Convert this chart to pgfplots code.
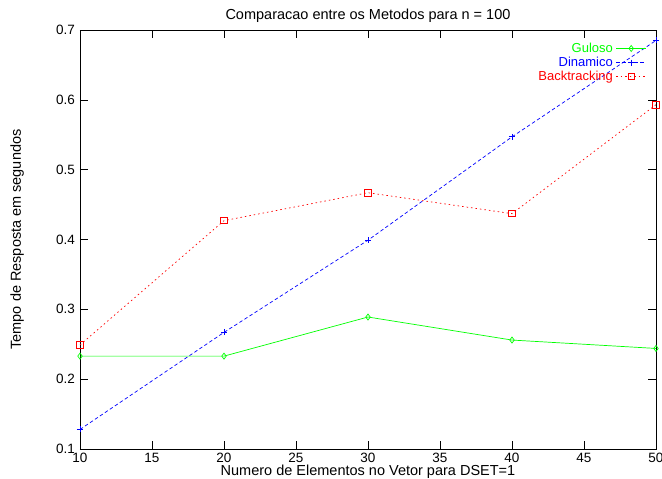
\documentclass[border=0pt]{standalone}
\usepackage{fontspec}
\setmainfont{Liberation Sans}
\usepackage{pgfplots}
\pgfplotsset{compat=1.18}
\definecolor{gpgreen}{RGB}{0,255,0}
\definecolor{gpblue}{RGB}{0,0,255}
\definecolor{gpred}{RGB}{255,0,0}
\begin{document}
\fontsize{14.5pt}{16pt}\selectfont
\begin{tikzpicture}
\begin{axis}[
  scale only axis,
  width=576pt, height=419pt,
  xmin=10, xmax=50, ymin=0.1, ymax=0.7,
  xtick={10,15,...,50},
  ytick={0.1,0.2,...,0.7},
  yticklabel style={/pgf/number format/fixed,/pgf/number format/precision=1},
  /pgf/number format/assume math mode=true,
  tick align=inside,
  major tick length=8pt,
  tick style={black, line width=0.5pt},
  axis line style={line width=0.8pt},
  ticklabel style={font=\fontsize{13.5pt}{16pt}\selectfont},
  xticklabel style={inner sep=0pt, yshift=-4pt},
  title={Comparacao entre os Metodos para n = 100},
  title style={font=\fontsize{14.5pt}{16pt}\selectfont, at={(axis description cs:0.5,1)}, anchor=center, yshift=8pt},
  xlabel={Numero de Elementos no Vetor para DSET=1},
  xlabel style={font=\fontsize{14.5pt}{16pt}\selectfont, inner sep=0pt, at={(axis description cs:0.5,-0.0545)}, anchor=center},
  ylabel={Tempo de Resposta em segundos},
  ylabel style={font=\fontsize{14.5pt}{16pt}\selectfont, at={(axis description cs:-0.109,0.5)}, anchor=center},
  legend style={draw=none, fill=none, at={(0.984,0.975)}, anchor=north east,
    font=\fontsize{13pt}{15pt}\selectfont, row sep=-1.5pt, inner sep=0pt,
    nodes={inner xsep=3pt}},
  legend cell align=right,
  legend plot pos=right,
  legend image code/.code={\draw[mark repeat=2,mark phase=2,#1] plot coordinates {(0pt,0pt)(15pt,0pt)(30pt,0pt)};},
]
\addplot[gpgreen, line width=0.7pt, mark=diamond, mark size=3pt, mark options={solid, draw=gpgreen, fill=none}] coordinates {
(10,0.233) (20,0.233) (30,0.289) (40,0.256) (50,0.244)};
\addlegendentry{\textcolor{gpgreen}{Guloso}}
\addplot[gpblue, line width=0.7pt, dash pattern=on 3.5pt off 2.5pt, mark=+, mark size=3pt, mark options={solid, draw=gpblue}] coordinates {
(10,0.128) (20,0.267) (30,0.399) (40,0.547) (50,0.685)};
\addlegendentry{\textcolor{gpblue}{Dinamico}}
\addplot[gpred, line width=0.7pt, dash pattern=on 1.5pt off 3pt, mark=square, mark size=3.2pt, mark options={solid, draw=gpred, fill=none, line width=0.8pt}] coordinates {
(10,0.249) (20,0.427) (30,0.467) (40,0.437) (50,0.593)};
\addlegendentry{\textcolor{gpred}{Backtracking}}
\end{axis}
\pgfresetboundingbox
\path[use as bounding box] (-80pt,-30pt) rectangle (582pt,449pt);
\end{tikzpicture}
\end{document}
